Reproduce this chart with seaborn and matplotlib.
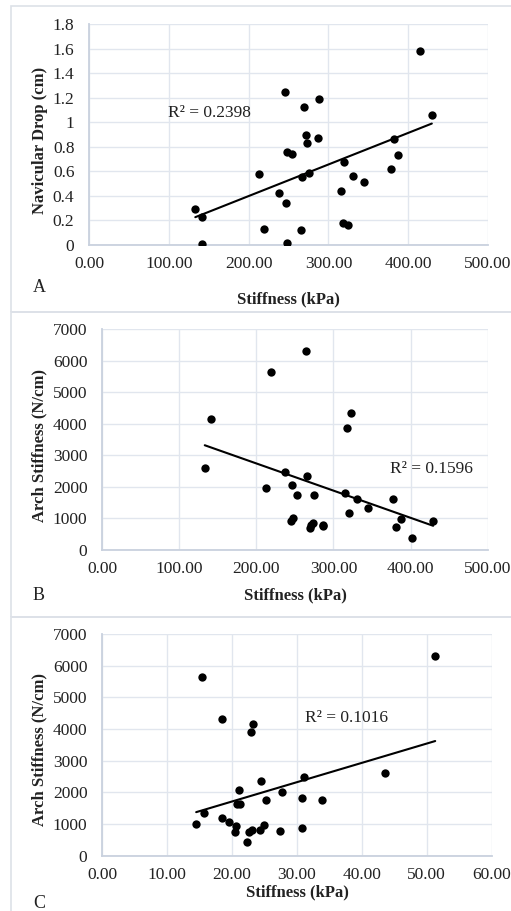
import matplotlib
matplotlib.use("Agg")
import matplotlib.pyplot as plt
from matplotlib.patches import Rectangle
from matplotlib.ticker import FixedLocator, FixedFormatter
import seaborn as sns
import pandas as pd

# Panel A: plantar fascia stiffness vs navicular drop
a_stiffness = [414.6, 245.0, 269.7, 288.0, 429.6, 272.0, 287.0, 273.4, 382.3, 248.2,
               255.0, 387.3, 320.0, 212.7, 276.0, 266.3, 331.3, 345.0, 379.0, 315.7,
               238.3, 247.0, 133.2, 141.6, 317.8, 324.5, 219.8, 265.5, 142.0, 248.4]
a_drop = [1.58, 1.25, 1.125, 1.19, 1.06, 0.90, 0.87, 0.83, 0.86, 0.76,
          0.74, 0.73, 0.68, 0.58, 0.59, 0.555, 0.56, 0.51, 0.62, 0.44,
          0.42, 0.34, 0.29, 0.225, 0.18, 0.16, 0.13, 0.12, 0.01, 0.02]

# Panel B: plantar fascia stiffness vs arch stiffness
b_stiffness = [264.6, 218.8, 141.0, 323.4, 317.8, 133.2, 212.7, 237.4, 246.4, 253.3,
               266.3, 274.5, 244.7, 248.0, 269.8, 273.0, 287.0, 315.6, 320.0, 330.3,
               344.6, 377.4, 381.3, 387.8, 401.7, 429.3, 286.0, 271.5]
b_arch = [6300, 5640, 4155, 4325, 3880, 2595, 1972, 2468, 2057, 1730,
          2342, 1750, 908, 1022, 706, 845, 770, 1803, 1170, 1623,
          1340, 1604, 728, 990, 389, 917, 790, 800]

# Panel C: second stiffness measure vs arch stiffness
c_stiffness = [15.4, 18.4, 23.2, 22.9, 51.3, 43.5, 31.1, 24.5, 21.1, 27.7,
               30.8, 33.9, 25.2, 20.8, 21.3, 15.7, 18.4, 19.5, 14.5, 20.7,
               25.0, 20.5, 22.6, 23.1, 24.4, 27.4, 30.8, 22.4]
c_arch = [5637, 4322, 4155, 3902, 6300, 2618, 2492, 2366, 2073, 2000,
          1830, 1767, 1767, 1640, 1640, 1357, 1180, 1073, 1010, 927,
          960, 738, 748, 811, 811, 770, 883, 423]

a_xticks = [0, 100, 200, 300, 400, 500]
a_yticks = [0, 0.2, 0.4, 0.6, 0.8, 1.0, 1.2, 1.4, 1.6, 1.8]
a_ylabels = ["0", "0.2", "0.4", "0.6", "0.8", "1", "1.2", "1.4", "1.6", "1.8"]
b_xticks = [0, 100, 200, 300, 400, 500]
arch_yticks = [0, 1000, 2000, 3000, 4000, 5000, 6000, 7000]
c_xticks = [0, 10, 20, 30, 40, 50, 60]

r2_labels = ["R\u00b2 = 0.2398", "R\u00b2 = 0.1596", "R\u00b2 = 0.1016"]
panel_letters = ["A", "B", "C"]
x_title = "Stiffness (kPa)"
y_titles = ["Navicular Drop (cm)", "Arch Stiffness (N/cm)", "Arch Stiffness (N/cm)"]

sns.set_style("white")
plt.rcParams["font.family"] = ["Liberation Serif", "DejaVu Serif"]

W, H = 511, 911
fig = plt.figure(figsize=(W / 100, H / 100), dpi=100)


def fx(x):
    return x / W


def fy(y):
    return 1 - y / H


def add_axes(left, top, right, bottom):
    return fig.add_axes([fx(left), fy(bottom), fx(right) - fx(left), fy(top) - fy(bottom)])


GRID = "#e1e6ee"
SPINE = "#c9d1de"
BOX = "#dde1e8"
TXT = "#222222"

# chart-area frames
for top, bottom in [(6, 311.7), (311.7, 616.7), (616.7, 930)]:
    fig.patches.append(Rectangle((fx(11), fy(bottom)), fx(530) - fx(11), fy(top) - fy(bottom),
                                 transform=fig.transFigure, fill=False, edgecolor=BOX,
                                 linewidth=1.2, clip_on=False))

panels = [
    dict(box=(89, 24, 488, 245), x=a_stiffness, y=a_drop, xlim=(0, 500), ylim=(0, 1.8),
         xt=a_xticks, xfmt="{:.2f}", yt=a_yticks, ylab=a_ylabels,
         r2=(99, 1.075), xl=(288.5, 299), yl=(40, 140), letter=(39, 287)),
    dict(box=(102, 329, 487.7, 550), x=b_stiffness, y=b_arch, xlim=(0, 500), ylim=(0, 7000),
         xt=b_xticks, xfmt="{:.2f}", yt=arch_yticks, ylab=[str(v) for v in arch_yticks],
         r2=(373, 2560), xl=(295, 595), yl=(39, 445), letter=(39, 595)),
    dict(box=(102, 634, 491.7, 855.7), x=c_stiffness, y=c_arch, xlim=(0, 60), ylim=(0, 7000),
         xt=c_xticks, xfmt="{:.2f}", yt=arch_yticks, ylab=[str(v) for v in arch_yticks],
         r2=(31.2, 4353), xl=(297, 892), yl=(39, 750), letter=(39, 903)),
]

for i, p in enumerate(panels):
    ax = add_axes(*p["box"])
    df = pd.DataFrame({"x": p["x"], "y": p["y"]})
    sns.regplot(data=df, x="x", y="y", ax=ax, ci=None, truncate=True,
                scatter_kws=dict(s=36, color="black", alpha=1, linewidths=0, zorder=3),
                line_kws=dict(color="black", linewidth=1.5, zorder=2))
    ax.set_xlim(*p["xlim"])
    ax.set_ylim(*p["ylim"])
    ax.xaxis.set_major_locator(FixedLocator(p["xt"]))
    ax.xaxis.set_major_formatter(FixedFormatter([p["xfmt"].format(v) for v in p["xt"]]))
    ax.yaxis.set_major_locator(FixedLocator(p["yt"]))
    ax.yaxis.set_major_formatter(FixedFormatter(p["ylab"]))
    ax.grid(True, color=GRID, linewidth=1.0)
    ax.set_axisbelow(True)
    for s in ["top", "right"]:
        ax.spines[s].set_visible(False)
    for s in ["left", "bottom"]:
        ax.spines[s].set_color(SPINE)
        ax.spines[s].set_linewidth(1.3)
    ax.tick_params(axis="both", length=0, labelsize=12.5, colors=TXT)
    ax.tick_params(axis="x", pad=8)
    ax.tick_params(axis="y", pad=10.5)

    ax.set_xlabel(x_title, fontsize=12, fontweight="bold", color=TXT)
    ax.set_ylabel(y_titles[i], fontsize=12, fontweight="bold", color=TXT)
    ax.xaxis.set_label_coords(fx(p["xl"][0]), fy(p["xl"][1]), transform=fig.transFigure)
    ax.yaxis.set_label_coords(fx(p["yl"][0]), fy(p["yl"][1]), transform=fig.transFigure)
    ax.xaxis.label.set_verticalalignment("center")
    ax.yaxis.label.set_verticalalignment("center")

    ax.text(p["r2"][0], p["r2"][1], r2_labels[i], fontsize=12.5, color=TXT,
            ha="left", va="center")
    fig.text(fx(p["letter"][0]), fy(p["letter"][1]), panel_letters[i], fontsize=13,
             color=TXT, ha="center", va="center")

fig.savefig("out.png", dpi=100, facecolor="white")
